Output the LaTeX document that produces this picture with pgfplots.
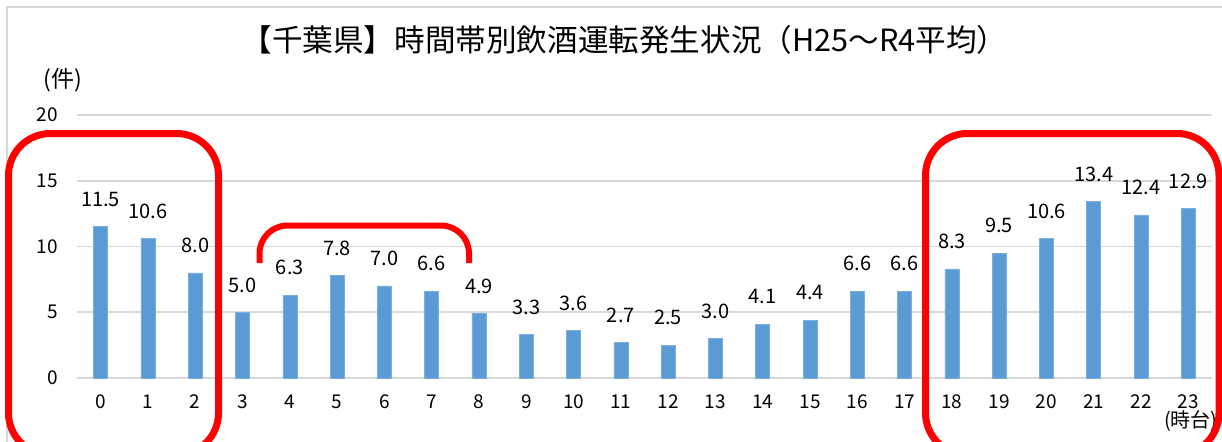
\documentclass[border=0pt]{standalone}
\usepackage{fontspec}
\setmainfont{Noto Sans CJK JP}
\usepackage{pgfplots}
\pgfplotsset{compat=1.18}
\definecolor{barblue}{HTML}{5B9BD5}
\definecolor{gridgray}{HTML}{D9D9D9}
\definecolor{annred}{HTML}{FF0000}
\pgfplotstableread{
h v
0 11.5
1 10.6
2 8.0
3 5.0
4 6.3
5 7.8
6 7.0
7 6.6
8 4.9
9 3.3
10 3.6
11 2.7
12 2.5
13 3.0
14 4.1
15 4.4
16 6.6
17 6.6
18 8.3
19 9.5
20 10.6
21 13.4
22 12.4
23 12.9
}\datatable
\begin{document}
\begin{tikzpicture}
\useasboundingbox (0,0) rectangle (611pt,220.5pt);
\clip (0,0) rectangle (611pt,220.5pt);
\fill[white] (0,0) rectangle (611pt,220.5pt);
% chart frame
\draw[gridgray, line width=0.9pt] (3.5pt,-10pt) -- (3.5pt,217pt) -- (620pt,217pt);
\begin{axis}[
  at={(38.5pt,31.5pt)}, anchor=south west,
  scale only axis, width=567.5pt, height=131.5pt,
  xmin=-0.5, xmax=23.5, ymin=0, ymax=20,
  xtick={0,...,23}, ytick={0,5,10,15,20},
  /pgf/number format/assume math mode=true,
  axis x line*=bottom, axis y line*=left,
  axis line style={draw=none},
  major tick length=0pt,
  ymajorgrids, major grid style={gridgray, line width=0.8pt},
  tick label style={font=\fontsize{9.5}{11}\selectfont},
  xticklabel style={yshift=-5pt},
  yticklabel style={xshift=-6pt},
  title={【千葉県】時間帯別飲酒運転発生状況（H25～R4平均）},
  title style={at={(rel axis cs:0.5,1)}, anchor=center, xshift=-10pt, yshift=31.5pt, font=\fontsize{15.3}{18}\selectfont},
  ylabel={(件)},
  every axis y label/.style={at={(rel axis cs:0,1)}, anchor=center, xshift=-7pt, yshift=17.5pt, font=\fontsize{11.5}{13}\selectfont},
  xlabel={(時台)},
  every axis x label/.style={at={(rel axis cs:1,0)}, anchor=west, xshift=-27.5pt, yshift=-21.5pt, font=\fontsize{10}{12}\selectfont},
  clip=false,
]
\addplot[ybar, bar width=7pt, fill=barblue, draw=barblue!80!white, line width=0.3pt,
  nodes near coords={\pgfmathprintnumber[fixed,fixed zerofill,precision=1]{\pgfplotspointmeta}},
  nodes near coords style={font=\fontsize{10}{12}\selectfont, black, yshift=6.5pt}
] table[x=h, y=v] {\datatable};
\end{axis}
% red annotations
\draw[annred, line width=3.5pt, rounded corners=21pt] (4.25pt,-7pt) rectangle (109.25pt,153.75pt);
\draw[annred, line width=3.5pt, rounded corners=21pt] (462.75pt,-7pt) rectangle (609.5pt,153.75pt);
\draw[annred, line width=3pt, rounded corners=14pt] (129.75pt,89pt) -- (129.75pt,107.75pt) -- (234.5pt,107.75pt) -- (234.5pt,89pt);
\end{tikzpicture}
\end{document}
